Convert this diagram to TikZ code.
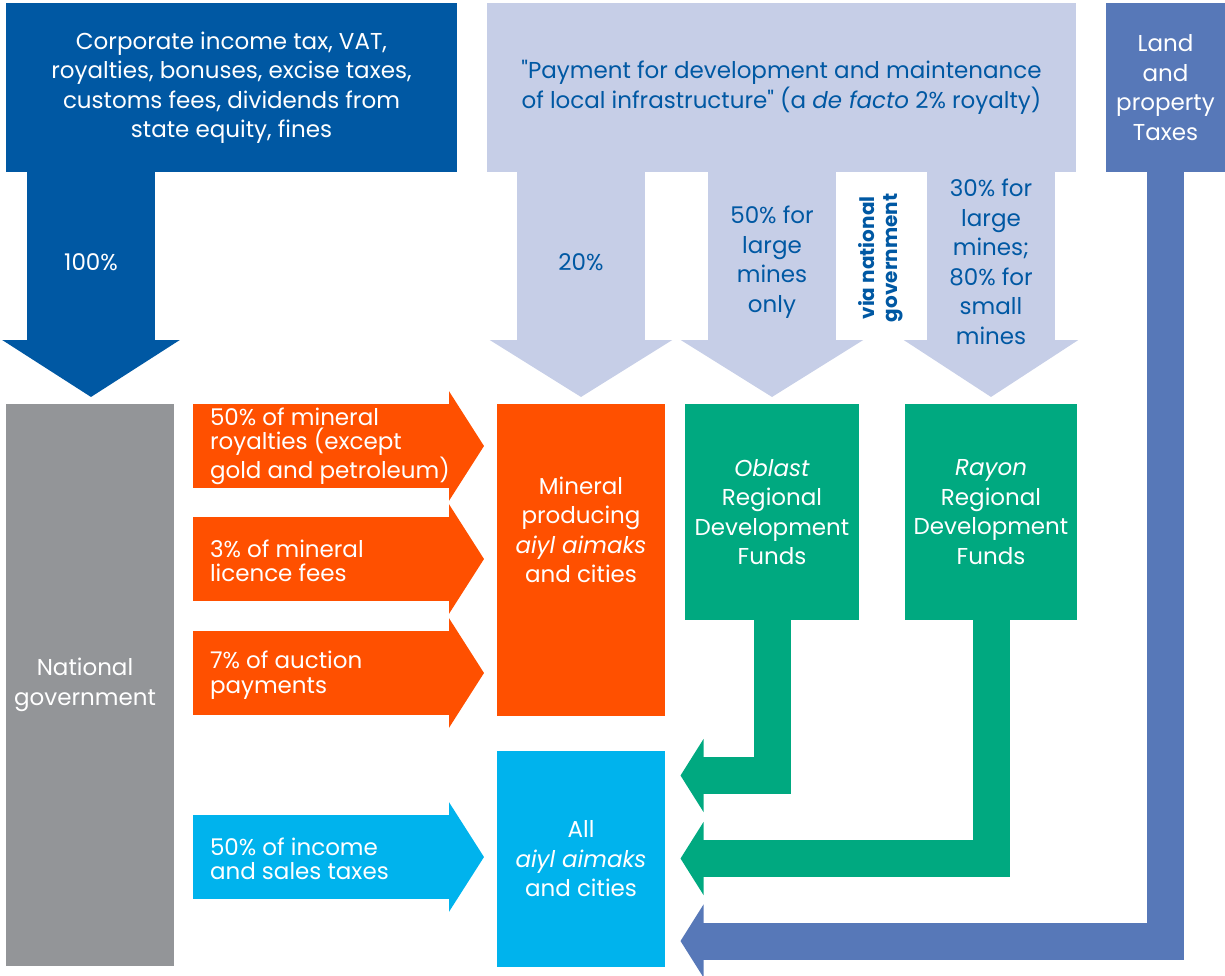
\documentclass[tikz,border=0pt]{standalone}
\usepackage{fontspec}
\setmainfont{Poppins}
\usetikzlibrary{arrows.meta, positioning, calc}

\definecolor{taxblue}{HTML}{0058A3}
\definecolor{lav}{HTML}{C6CEE7}
\definecolor{landblue}{HTML}{5778B8}
\definecolor{ored}{HTML}{FF5000}
\definecolor{grn}{HTML}{00A980}
\definecolor{cyn}{HTML}{00B3ED}
\definecolor{natgray}{HTML}{939598}

\begin{document}
\begin{tikzpicture}[
        x=1pt, y=-1pt,
        every node/.style={align=center, inner sep=0pt, outer sep=0pt, font=\fontsize{23}{29.5}\selectfont},
        box/.style={fill=#1, anchor=north west},
        downarr/.style={#1, line width=128pt, -{Triangle[length=57pt, width=180pt]}},
        sidearr/.style={#1, line width=84pt, -{Triangle[length=35pt, width=108pt]}},
        bentarr/.style={#1, line width=37pt, line join=miter, -{Triangle[length=23pt, width=72pt]}},
        sidetext/.style={text=white, align=left, anchor=west, font=\fontsize{23}{24.5}\selectfont}
        ]
        \useasboundingbox (0,0) rectangle (1225,976);

        % Nodes
        \node[box=taxblue, minimum width=451pt, minimum height=169pt, text=white] (taxes) at (6,3)
            {Corporate income tax, VAT,\\ royalties, bonuses, excise taxes,\\ customs fees, dividends from\\ state equity, fines};
        \node[box=lav, minimum width=589pt, minimum height=169pt, text=taxblue] (infra) at (487,3)
            {\textquotedbl Payment for development and maintenance\\ of local infrastructure\textquotedbl\ (a \textit{de facto} 2\% royalty)};
        \node[box=landblue, minimum width=119pt, minimum height=169pt, text=white] (land) at (1106,3)
            {Land\\ and\\ property\\ Taxes};
        \node[box=natgray, minimum width=168pt, minimum height=562pt] (natgov) at (6,404) {};
        \node[text=white] (natext) at ([xshift=-5pt]natgov.center) {National\\ government};
        \node[box=ored, minimum width=168pt, minimum height=312pt] (mineral) at (497,404) {};
        \node[text=white] (mintext) at ([yshift=30pt]mineral.center)
            {Mineral\\ producing\\ \textit{aiyl aimaks}\\ and cities};
        \node[box=grn, minimum width=174pt, minimum height=216pt, text=white] (oblast) at (685,404)
            {\textit{Oblast}\\ Regional\\ Development\\ Funds};
        \node[box=grn, minimum width=172pt, minimum height=216pt, text=white] (rayon) at (905,404)
            {\textit{Rayon}\\ Regional\\ Development\\ Funds};
        \node[box=cyn, minimum width=168pt, minimum height=216pt, text=white] (allaa) at (497,751)
            {All\\ \textit{aiyl aimaks}\\ and cities};

        \coordinate (row1) at (0,446);
        \coordinate (row2) at (0,559);
        \coordinate (row3) at (0,673);
        \coordinate (row4) at (0,857);

        % Arrows down
        \draw[downarr=taxblue, -{Triangle[length=57pt, width=175pt]}] ([xshift=1pt]taxes.south -| natgov.north) -- ([xshift=1pt, yshift=7pt]natgov.north)
            node[pos=.4, text=white] (p100) {100\%};
        \draw[downarr=lav] (infra.south -| mineral.north) -- ([yshift=7pt]mineral.north)
            node[pos=.4, text=taxblue] (p20) {20\%};
        \draw[downarr=lav] (infra.south -| oblast.north) -- ([yshift=7pt]oblast.north)
            node[pos=.4, text=taxblue] (p50) {50\% for\\ large\\ mines\\ only};
        \draw[downarr=lav, -{Triangle[length=57pt, width=172pt]}] (infra.south -| rayon.north) -- ([yshift=7pt]rayon.north)
            node[pos=.4, text=taxblue] (p30) {30\% for\\ large\\ mines;\\ 80\% for\\ small\\ mines};
        \node[rotate=90, text=taxblue, font=\fontsize{20}{23}\selectfont\bfseries] (via) at (881,258)
            {via national\\ government};

        % Arrows from national government
        \draw[sidearr=ored] ($(natgov.east |- row1)+(19,0)$) -- ($(mineral.west |- row1)+(-13,0)$);
        \draw[sidearr=ored] ($(natgov.east |- row2)+(19,0)$) -- ($(mineral.west |- row2)+(-13,0)$);
        \draw[sidearr=ored] ($(natgov.east |- row3)+(19,0)$) -- ($(mineral.west |- row3)+(-13,0)$);
        \draw[sidearr=cyn] ($(natgov.east |- row4)+(19,0)$) -- ($(allaa.west |- row4)+(-13,0)$);
        \node[sidetext] (royal) at ($(natgov.east |- row1)+(36,0)$) {50\% of mineral\\ royalties (except\\ gold and petroleum)};
        \node[sidetext] (licence) at ($(natgov.east |- row2)+(36,2)$) {3\% of mineral\\ licence fees};
        \node[sidetext] (auction) at ($(natgov.east |- row3)+(36,2)$) {7\% of auction\\ payments};
        \node[sidetext] (income) at ($(natgov.east |- row4)+(36,2)$) {50\% of income\\ and sales taxes};

        % Arrows to all aiyl aimaks
        \draw[bentarr=grn] (oblast.south) |- ($(allaa.north east)+(15.5,24.5)$);
        \draw[bentarr=grn] (rayon.south) |- ($(allaa.north east)+(15.5,107.5)$);
        \draw[bentarr=landblue] (land.south) |- ($(allaa.north east)+(15.5,190)$);

        \end{tikzpicture}
\end{document}
